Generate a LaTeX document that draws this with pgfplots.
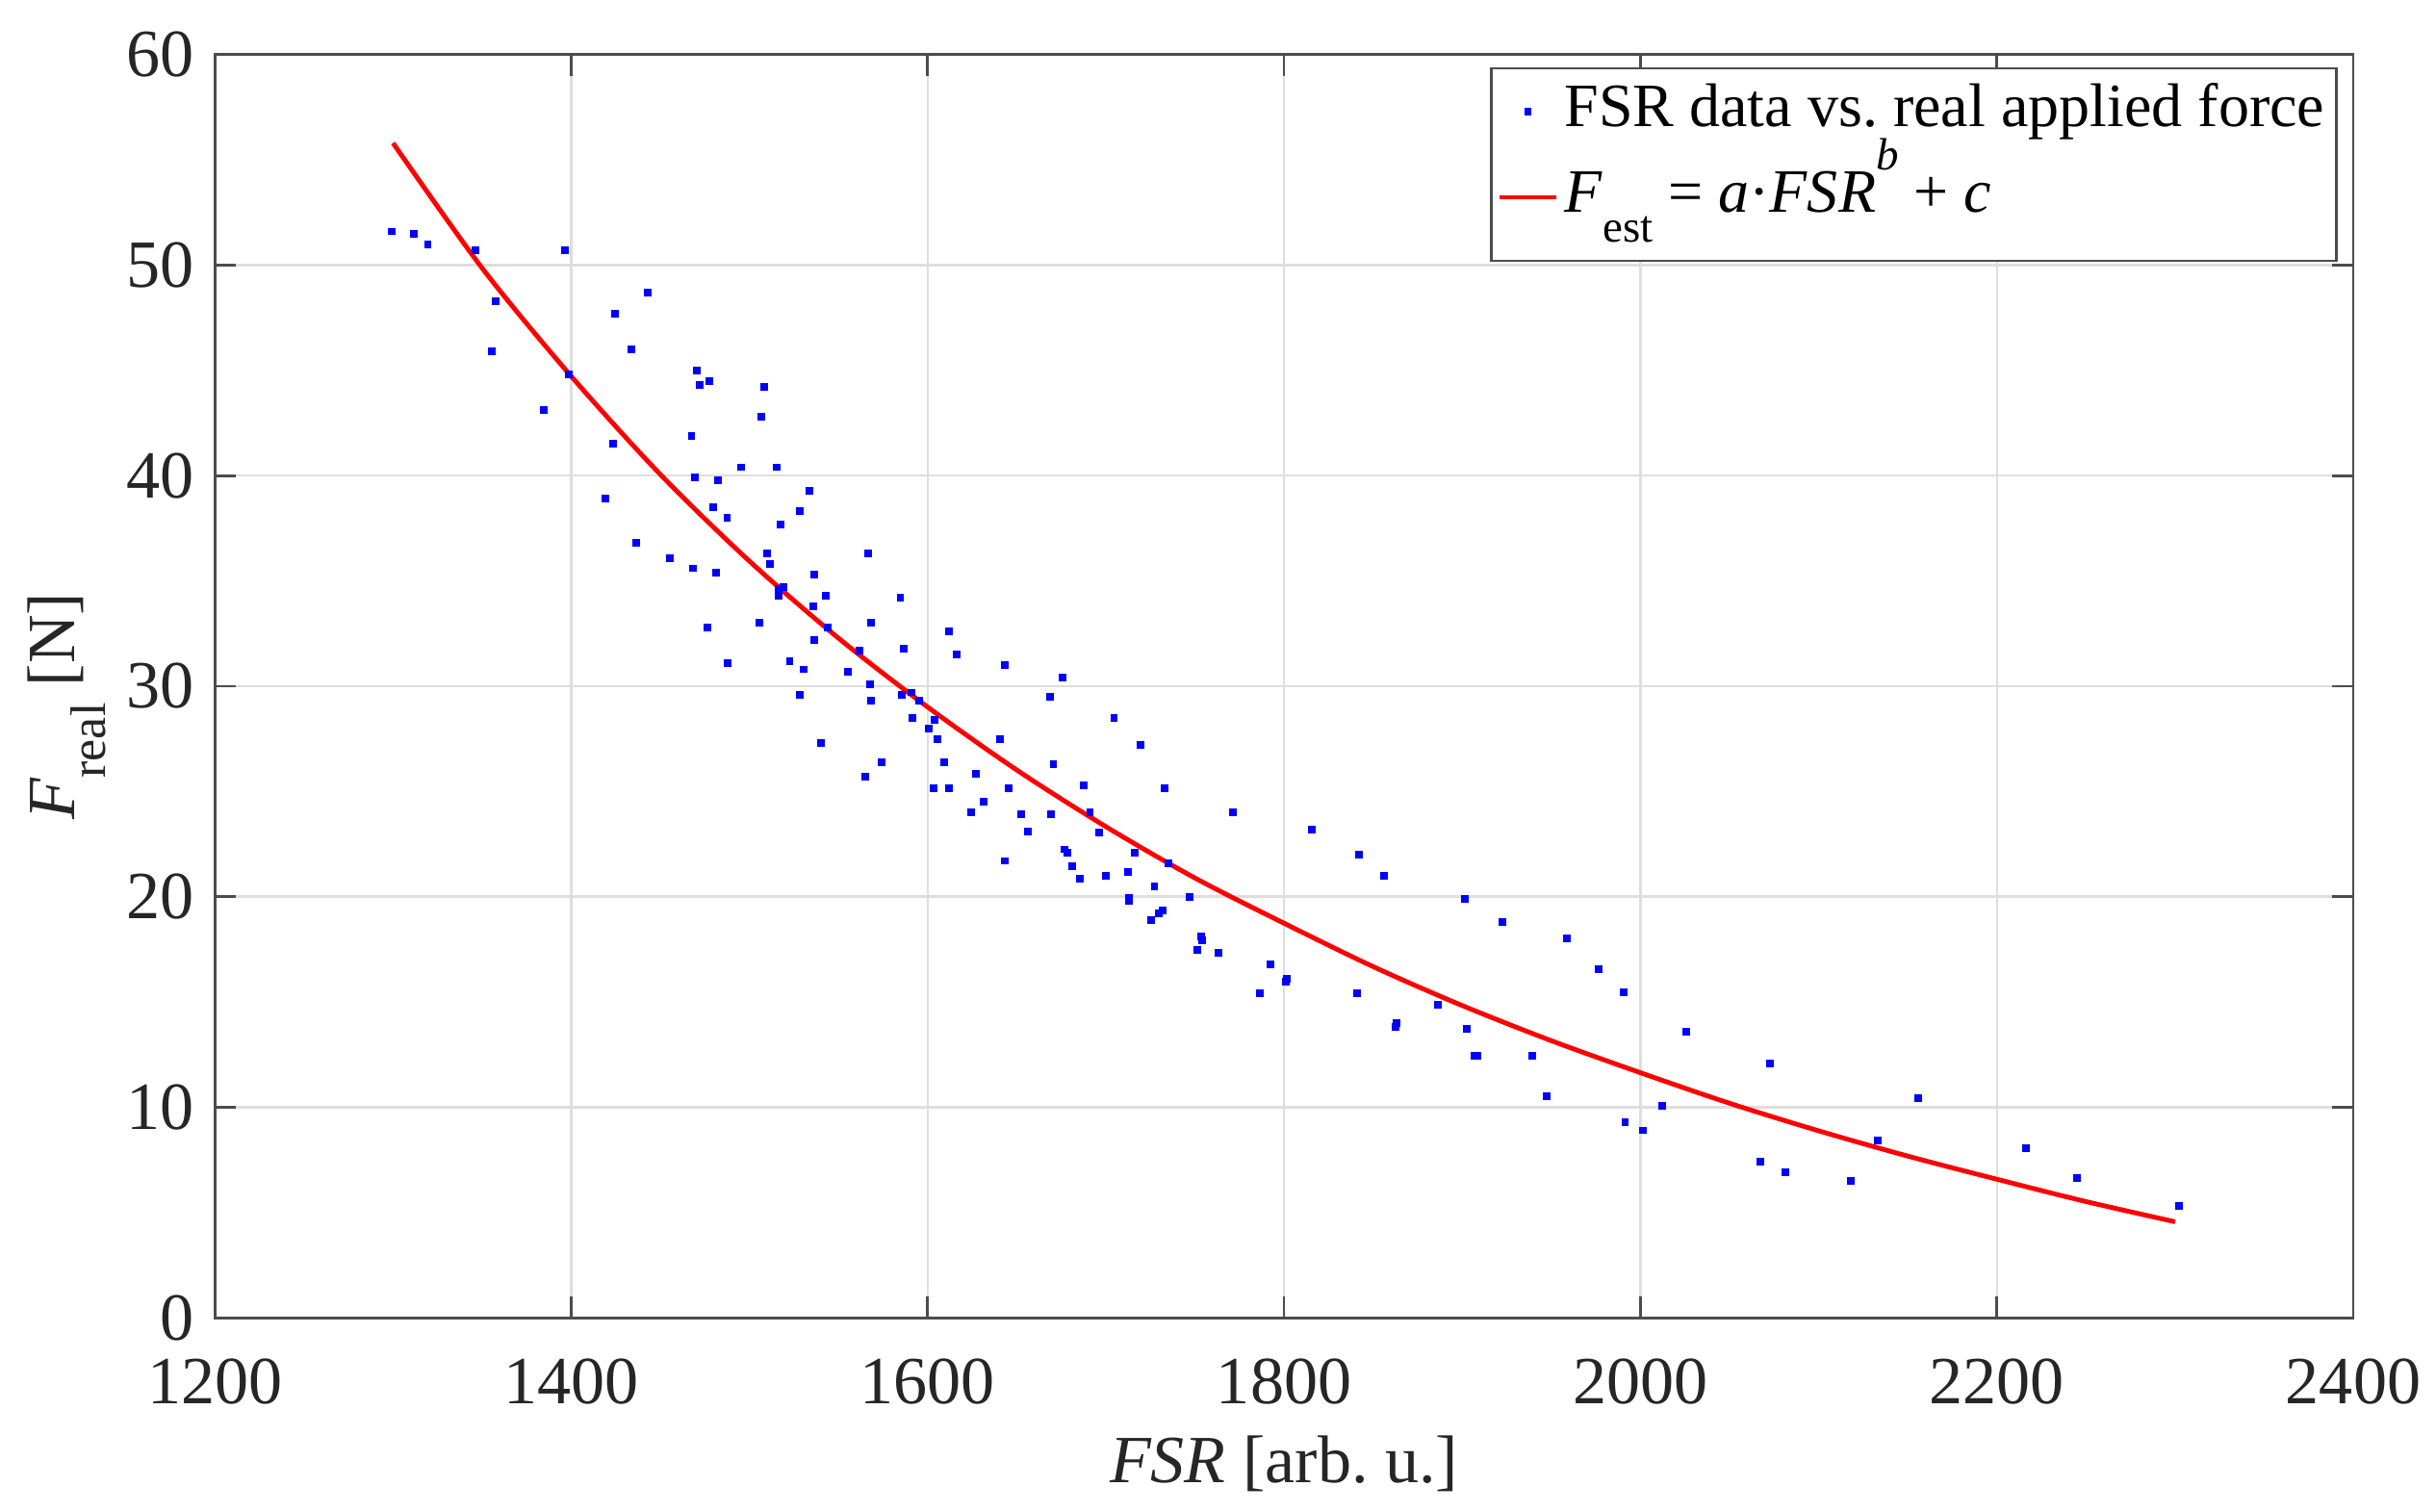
\documentclass[border=0pt]{standalone}
\usepackage{fontspec}
\setmainfont{Liberation Serif}
\usepackage{pgfplots}
\pgfplotsset{compat=1.18}
\usepackage{pgfplotstable}

\pgfplotsset{shortline legend/.style={legend image code/.code={\draw[##1] (0cm,1.7pt) -- (0.34cm,1.7pt);}},
  dot legend/.style={legend image code/.code={\draw[##1] plot coordinates {(0.17cm,1.7pt)};}}}

\pgfplotstableread{
x y
1299.5 51.6
1311.6 51.5
1319.5 51.0
1346.5 50.7
1396.4 50.7
1357.4 48.3
1355.4 45.9
1442.7 48.7
1424.4 47.7
1433.5 46.0
1470.6 45.0
1477.6 44.5
1472.3 44.3
1508.5 44.2
1506.6 42.8
1384.6 43.1
1398.8 44.8
1467.5 41.9
1423.6 41.5
1495.5 40.4
1515.5 40.4
1469.4 39.9
1482.5 39.8
1533.5 39.3
1479.6 38.5
1487.5 38.0
1419.3 38.9
1528.2 38.3
1517.4 37.7
1436.4 36.8
1455.5 36.1
1468.5 35.6
1481.5 35.4
1509.7 36.3
1511.6 35.8
1536.4 35.3
1566.8 36.3
1519.3 34.7
1516.6 34.6
1516.6 34.3
1542.6 34.3
1584.7 34.2
1535.6 33.8
1505.4 33.0
1476.6 32.8
1543.9 32.8
1568.4 33.0
1536.6 32.2
1611.8 32.6
1586.6 31.8
1562.0 31.7
1616.3 31.5
1487.7 31.1
1522.6 31.2
1530.6 30.8
1555.4 30.7
1643.3 31.0
1675.5 30.4
1567.6 30.1
1528.4 29.6
1585.3 29.6
1590.9 29.7
1595.3 29.3
1568.4 29.3
1668.5 29.5
1591.5 28.5
1603.7 28.4
1600.6 28.0
1605.6 27.5
1640.7 27.5
1540.3 27.3
1704.6 28.5
1719.3 27.2
1574.4 26.4
1609.5 26.4
1670.6 26.3
1565.1 25.7
1627.3 25.85
1603.5 25.15
1612.2 25.15
1645.5 25.15
1687.4 25.3
1733.0 25.15
1631.4 24.5
1624.2 24.0
1652.3 23.9
1669.2 23.9
1691.1 24.0
1771.3 24.0
1656.2 23.1
1696.3 23.05
1815.5 23.2
1643.2 21.7
1676.6 22.25
1678.3 22.1
1716.3 22.1
1735.3 21.6
1842.3 22.0
1681.2 21.45
1685.3 20.84
1700.2 21.0
1712.2 21.18
1727.3 20.5
1747.1 20.0
1856.3 21.0
1713.0 19.96
1713.0 19.78
1732.0 19.35
1729.5 19.2
1725.2 18.88
1753.3 18.1
1754.1 17.95
1751.2 17.47
1763.4 17.33
1792.3 16.77
1801.8 16.08
1801.0 15.97
1786.6 15.4
1841.1 15.42
1901.6 19.9
1922.5 18.8
1958.6 18.0
1976.4 16.57
1990.4 15.44
1886.4 14.85
1862.5 13.8
1863.2 14.0
1902.5 13.72
1907.1 12.46
1908.5 12.46
1939.4 12.45
1947.3 10.52
2025.5 13.6
2072.5 12.08
2012.3 10.08
1991.4 9.28
2001.2 8.9
2067.2 7.43
2081.1 6.9
2118.2 6.52
2156.0 10.45
2133.1 8.44
2216.4 8.07
2244.9 6.64
2302.0 5.32
}\fsrdata

\pgfplotstableread{
x y
1300 55.80
1350 49.86
1400 44.72
1450 40.06
1500 35.94
1550 32.28
1600 29.01
1650 26.02
1700 23.33
1750 20.89
1800 18.74
1850 16.68
1900 14.83
1950 13.16
2000 11.64
2050 10.19
2100 8.88
2150 7.68
2200 6.58
2250 5.52
2300 4.56
}\fitdata

\newcommand{\lsub}[1]{\raisebox{-5.2pt}{\fontsize{8.5}{9}\selectfont #1}}
\newcommand{\ssub}[1]{\smash{\raisebox{-5.1pt}{\fontsize{7.7}{8}\selectfont #1}}}
\newcommand{\ssup}[1]{\smash{\raisebox{7.2pt}{\fontsize{7.7}{8}\selectfont #1}}}

\begin{document}
\frenchspacing
\begin{tikzpicture}
\begin{axis}[
  scale only axis, width=364.3pt, height=215.2pt,
  at={(0,0)}, anchor=south west,
  xmin=1200, xmax=2400, ymin=0, ymax=60,
  xtick={1200,1400,...,2400}, ytick={0,10,...,60},
  tick align=inside, major tick length=3.6pt,
  xtick pos=both, ytick pos=both,
  xticklabel pos=lower, yticklabel pos=left,
  grid=major, major grid style={black!13, line width=0.4pt},
  axis line style={black!70, line width=0.45pt},
  tick style={black!70, line width=0.45pt},
  ticklabel style={font=\fontsize{11.5}{13}\selectfont, text=black!85},
  xticklabel style={yshift=-3.5pt},
  /pgf/number format/assume math mode=true,
  /pgf/number format/1000 sep={},
  xlabel={\textit{FSR} [arb.\ u.]},
  ylabel={\textit{F}\lsub{real} [N]},
  label style={font=\fontsize{11.5}{13}\selectfont, text=black!85},
  xlabel style={at={(axis description cs:0.5,-0.1152)}, anchor=center},
  ylabel style={at={(axis description cs:-0.0692,0.4842)}, anchor=center},
  legend style={at={(rel axis cs:1,1)}, anchor=north east, xshift=-2.7pt, yshift=-2.1pt,
    draw=black!70, line width=0.4pt, font=\fontsize{10.5}{12}\selectfont, text=black,
    inner xsep=1pt, inner ysep=2pt, column sep=0pt, row sep=0.4pt,
    nodes={inner xsep=1pt, inner ysep=0.5pt, text height=7.5pt, text depth=5.7pt}},
  legend cell align=left,
]
\addplot[only marks, mark=square*, mark size=0.45pt, color=blue, dot legend] table[x=x,y=y] {\fsrdata};
\addlegendentry{FSR data vs.\ real applied force}
\addplot[red, line width=0.8pt, smooth, no marks, shortline legend] table[x=x,y=y] {\fitdata};
\addlegendentry{\textit{F}\ssub{est} = \textit{a}·\textit{FSR}\ssup{\textit{b}} + \textit{c}}
\end{axis}
\pgfresetboundingbox
\path[use as bounding box] (-36.6pt,-33pt) rectangle (378.4pt,224.5pt);
\end{tikzpicture}
\end{document}
